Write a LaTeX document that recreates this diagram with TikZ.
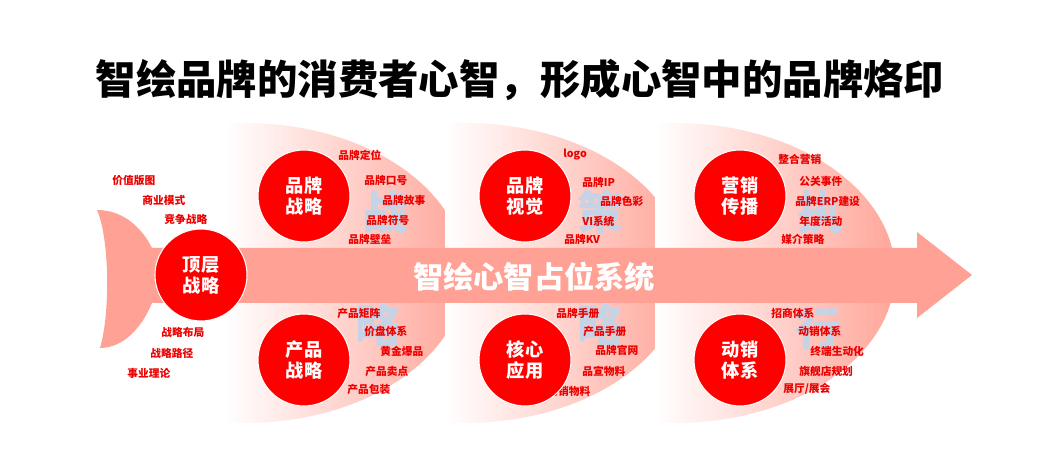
\documentclass[tikz,border=0pt]{standalone}
\usepackage{fontspec}
\setmainfont{Noto Sans CJK SC}
\newfontfamily\heavyfont{Noto Sans CJK SC Black}
\definecolor{salmon}{RGB}{255,161,148}
\definecolor{fanpink}{RGB}{255,166,154}
\definecolor{hotred}{RGB}{255,0,0}
\definecolor{labelred}{RGB}{236,0,0}
\definecolor{ghost}{RGB}{196,212,230}
\tikzset{
  hub/.style={circle, fill=hotred, draw=white, line width=0.6pt, minimum size=1.84cm,
    inner sep=0pt, text=white, align=center, font=\bfseries\fontsize{10.4}{12}\selectfont},
  lbl/.style={anchor=west, inner sep=0pt, text=labelred, font=\bfseries\fontsize{6.1}{7}\selectfont},
  ghostchar/.style={inner sep=0pt, text=ghost, font=\bfseries\fontsize{26}{26}\selectfont},
  fan/.style={shading=axis, left color=white, right color=fanpink, draw=none}
}
\begin{document}
\begin{tikzpicture}[x=0.02cm, y=0.02cm]
  \useasboundingbox (0,0) rectangle (1040,455);

  \node[font=\heavyfont\fontsize{23}{27}\selectfont] (title) at (520,375)
    {智绘品牌的消费者心智，形成心智中的品牌烙印};

  % fans
  \foreach \cx in {245, 465, 675} {
    \path[fan] (\cx-20,32) -- (\cx,32) arc[start angle=-90, end angle=90, x radius=220, y radius=150]
      -- (\cx-20,332) -- cycle;
  }

  % ghost characters
  \node[ghostchar] (g1) at (385,243) {战};
  \node[ghostchar] (g2) at (378,130) {略};
  \node[ghostchar] (g3) at (600,243) {策};
  \node[ghostchar] (g4) at (600,130) {略};
  \node[ghostchar] (g5) at (820,243) {执};
  \node[ghostchar] (g6) at (818,127) {行};

  % spine
  \fill[salmon] (97,245) .. controls (125,245) and (143,225) .. (152,207)
    -- (152,152) .. controls (143,130) and (125,107) .. (100,107)
    .. controls (110,140) and (110,215) .. (97,245) -- cycle;
  \fill[salmon] (150,207) -- (917,207) -- (917,223) -- (972,180) -- (917,137)
    -- (917,152) -- (150,152) -- cycle;
  \node[text=white, font=\heavyfont\fontsize{17.2}{20}\selectfont] (spine) at (534,178)
    {智绘心智占位系统};

  % labels
  \foreach \t/\x/\y [count=\i] in {
      价值版图/112/275, 商业模式/142/255, 竞争战略/164/236,
      战略布局/161/123, 战略路径/150/102, 事业理论/127/82,
      品牌定位/338/300, 品牌口号/364/275, 品牌故事/382/255, 品牌符号/366/235, 品牌壁垒/348/216,
      产品矩阵/337/142, 价盘体系/364/124, 黄金爆品/380/104, 产品卖点/365/84, 产品包装/347/66,
      logo/563/300, 品牌IP/582/273, 品牌色彩/600/254, VI系统/582/234, 品牌KV/564/216,
      品牌手册/556/142, 产品手册/583/124, 品牌官网/595/105, 品宣物料/582/84, 动销物料/547/64,
      整合营销/778/296, 公关事件/799/274, 品牌ERP建设/795/254, 年度活动/799/234, 媒介策略/781/216,
      招商体系/771/142, 动销体系/798/124, 终端生动化/810/104, 旗舰店规划/799/84, {展厅/展会}/783/66} {
    \node[lbl] (l\i) at (\x,\y) {\t};
  }

  % hubs
  \node[hub] (top)   at (201,180) {顶层\\战略};
  \node[hub] (brand) at (304,259) {品牌\\战略};
  \node[hub] (prod)  at (304,95)  {产品\\战略};
  \node[hub] (vis)   at (525,259) {品牌\\视觉};
  \node[hub] (core)  at (525,95)  {核心\\应用};
  \node[hub] (mkt)   at (740,259) {营销\\传播};
  \node[hub] (sales) at (740,95)  {动销\\体系};
\end{tikzpicture}
\end{document}
